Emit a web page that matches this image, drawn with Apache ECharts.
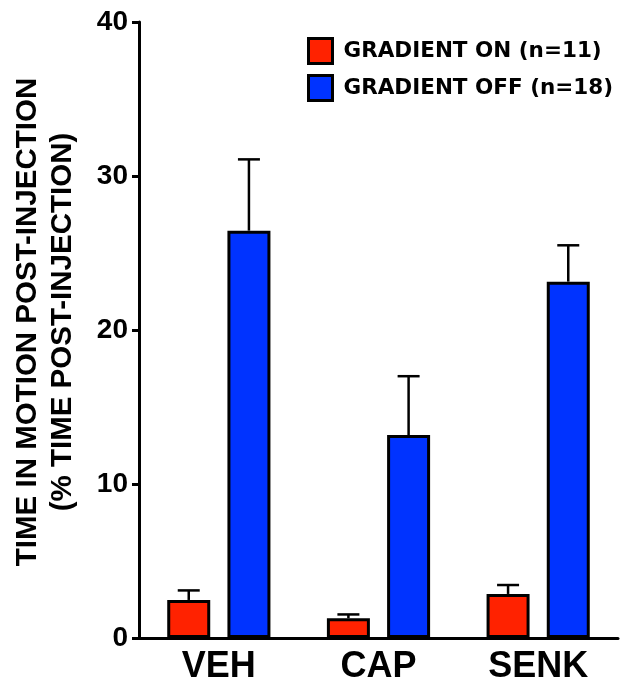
<!DOCTYPE html>
<html>
<head>
<meta charset="utf-8">
<script src="https://cdn.jsdelivr.net/npm/echarts@6/dist/echarts.min.js"></script>
<style>html,body{margin:0;padding:0;background:#fff;}#c{width:634px;height:686px;}</style>
</head>
<body>
<div id="c"></div>
<script>
var categories = ['VEH', 'CAP', 'SENK'];
var seriesNames = ['GRADIENT ON (n=11)', 'GRADIENT OFF (n=18)'];
var onMean = [2.47, 1.28, 2.86];
var onErr = [0.62, 0.25, 0.58];
var offMean = [26.45, 13.18, 23.14];
var offErr = [4.63, 3.82, 2.36];
var yTicks = [0, 10, 20, 30, 40];
var yTitle1 = 'TIME IN MOTION POST-INJECTION';
var yTitle2 = '(% TIME POST-INJECTION)';

var RED = '#ff2200', BLUE = '#0033ff';
var BAR_W = 43, GAP = 0.4;
var FONT = 'Arial, "Liberation Sans", Helvetica, sans-serif';

function errSeries(means, errs, sign) {
  var data = means.map(function (m, i) { return [i, m, m + errs[i]]; });
  return {
    type: 'custom',
    z: 5,
    silent: true,
    data: data,
    encode: { x: 0, y: [1, 2] },
    renderItem: function (params, api) {
      var idx = api.value(0);
      var p0 = api.coord([idx, api.value(1)]);
      var p1 = api.coord([idx, api.value(2)]);
      var off = sign * (BAR_W + BAR_W * GAP) / 2;
      var x = p0[0] + off;
      var hw = 11;
      var st = { stroke: '#000', lineWidth: 2.5 };
      return {
        type: 'group',
        children: [
          { type: 'line', shape: { x1: x, y1: p0[1], x2: x, y2: p1[1] }, style: st },
          { type: 'line', shape: { x1: x - hw, y1: p1[1], x2: x + hw, y2: p1[1] }, style: st }
        ]
      };
    }
  };
}

var chart = echarts.init(document.getElementById('c'), null, { renderer: 'canvas' });
chart.setOption({
  animation: false,
  backgroundColor: '#fff',
  grid: { left: 139, right: 16, top: 22, bottom: 48, containLabel: false },
  legend: {
    orient: 'vertical',
    left: 302,
    top: 32,
    padding: 5,
    itemWidth: 24,
    itemHeight: 25,
    itemGap: 9,
    icon: 'rect',
    data: seriesNames,
    textStyle: { fontFamily: '"DejaVu Sans", sans-serif', fontWeight: 'bold', fontSize: 21.5, color: '#000', padding: [0, 0, 0, 6] },
    itemStyle: { borderColor: '#000', borderWidth: 3 }
  },
  xAxis: {
    type: 'category',
    data: categories,
    axisLine: { lineStyle: { color: '#000', width: 3 } },
    axisTick: { alignWithLabel: true, length: 7, lineStyle: { color: '#000', width: 2.5 } },
    axisLabel: { fontFamily: FONT, fontWeight: 'bold', fontSize: 36, color: '#000', margin: 11 }
  },
  yAxis: {
    type: 'value',
    min: yTicks[0],
    max: yTicks[yTicks.length - 1],
    interval: 10,
    splitLine: { show: false },
    axisLine: { show: true, lineStyle: { color: '#000', width: 3 } },
    axisTick: { show: true, length: 7, lineStyle: { color: '#000', width: 3 } },
    axisLabel: { fontFamily: FONT, fontWeight: 'bold', fontSize: 28, color: '#000', margin: 11 }
  },
  graphic: [
    { type: 'text', x: 28, y: 322, rotation: Math.PI / 2,
      style: { text: yTitle1, fontFamily: FONT, fontWeight: 'bold', fontSize: 29.5, fill: '#000', align: 'center', verticalAlign: 'middle' } },
    { type: 'text', x: 63, y: 322, rotation: Math.PI / 2,
      style: { text: yTitle2, fontFamily: FONT, fontWeight: 'bold', fontSize: 29.5, fill: '#000', align: 'center', verticalAlign: 'middle' } }
  ],
  series: [
    { name: seriesNames[0], type: 'bar', data: onMean, barWidth: BAR_W, barGap: (GAP * 100) + '%',
      itemStyle: { color: RED, borderColor: '#000', borderWidth: 3 } },
    { name: seriesNames[1], type: 'bar', data: offMean, barWidth: BAR_W, barGap: (GAP * 100) + '%',
      itemStyle: { color: BLUE, borderColor: '#000', borderWidth: 3 } },
    errSeries(onMean, onErr, -1),
    errSeries(offMean, offErr, 1)
  ]
});
</script>
</body>
</html>
